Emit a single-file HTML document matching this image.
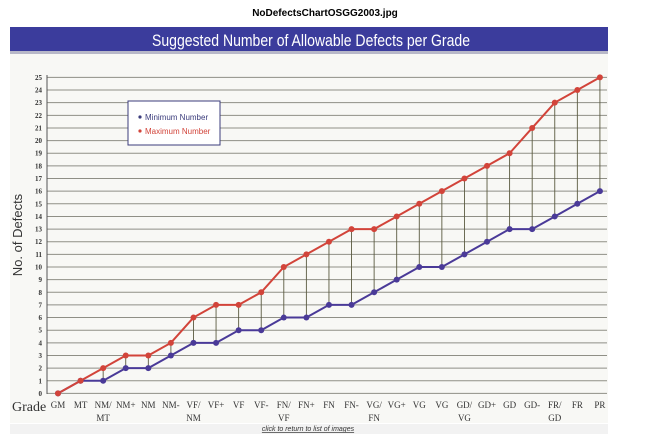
<!DOCTYPE html>
<html><head><style>
body{margin:0;background:#fff;width:650px;height:434px;overflow:hidden;font-family:"Liberation Sans",sans-serif}
</style></head><body>
<svg width="650" height="434" xmlns="http://www.w3.org/2000/svg">
<rect x="0" y="0" width="650" height="434" fill="#fff"/>
<text x="325" y="16" font-size="10" font-weight="bold" text-anchor="middle" font-family="Liberation Sans">NoDefectsChartOSGG2003.jpg</text>
<rect x="10" y="53" width="598" height="370" fill="#f8f8f5"/>
<rect x="10" y="27" width="598" height="25" fill="#3b3c9c"/>
<rect x="10" y="51" width="598" height="3" fill="#b8b8c8"/>
<text x="152" y="46" font-size="17" fill="#fff" textLength="318" lengthAdjust="spacingAndGlyphs" font-family="Liberation Sans">Suggested Number of Allowable Defects per Grade</text>
<g id="grid" stroke="#8f8f86" stroke-width="1"></g>
<line x1="47" y1="75" x2="47" y2="394" stroke="#555" stroke-width="1"/>
<g id="ylab" font-size="7" font-weight="bold" fill="#333" font-family="Liberation Serif" text-anchor="end"></g>
<g id="drops" stroke="#5a5a40" stroke-width="0.9"></g>
<polyline id="minl" fill="none" stroke="#4a3a98" stroke-width="2"/>
<polyline id="maxl" fill="none" stroke="#d2443a" stroke-width="2"/>
<g id="dots"></g>
<rect x="128" y="101" width="92" height="44" fill="#fff" stroke="#3b3c7c" stroke-width="1"/>
<circle cx="140" cy="117" r="1.6" fill="#3b3c7c"/>
<text x="145" y="120" font-size="8" fill="#3b3c7c" font-family="Liberation Sans">Minimum Number</text>
<circle cx="140" cy="131" r="1.6" fill="#d2443a"/>
<text x="145" y="134" font-size="8" fill="#d2443a" font-family="Liberation Sans">Maximum Number</text>
<text transform="translate(22,235) rotate(-90)" font-size="13" fill="#333" text-anchor="middle" font-family="Liberation Sans">No. of Defects</text>
<text x="12" y="411" font-size="14" fill="#333" font-family="Liberation Serif">Grade</text>
<g id="xlab" font-size="9" fill="#333" font-family="Liberation Serif" text-anchor="middle"></g>
<rect x="10" y="424" width="598" height="10" fill="#f2f2f2"/>
<text x="308" y="431" font-size="7" font-style="italic" fill="#333" text-anchor="middle" text-decoration="underline">click to return to list of images</text>
</svg>
<script>
var ns="http://www.w3.org/2000/svg";
function el(t,a,p){var e=document.createElementNS(ns,t);for(var k in a)e.setAttribute(k,a[k]);document.getElementById(p).appendChild(e);return e;}
function Y(v){return 393.4-v*12.64;}
function X(i){return 58+i*22.58;}
for(var v=0;v<=25;v++){el('line',{x1:47,y1:Y(v),x2:607,y2:Y(v)},'grid');var t=el('text',{x:42,y:Y(v)+2.5},'ylab');t.textContent=v;}
var mx=[0,1,2,3,3,4,6,7,7,8,10,11,12,13,13,14,15,16,17,18,19,21,23,24,25];
var mn=[0,1,1,2,2,3,4,4,5,5,6,6,7,7,8,9,10,10,11,12,13,13,14,15,16];
var g=[["GM"],["MT"],["NM/","MT"],["NM+"],["NM"],["NM-"],["VF/","NM"],["VF+"],["VF"],["VF-"],["FN/","VF"],["FN+"],["FN"],["FN-"],["VG/","FN"],["VG+"],["VG"],["VG"],["GD/","VG"],["GD+"],["GD"],["GD-"],["FR/","GD"],["FR"],["PR"]];
var a=[],b=[];
for(var i=0;i<25;i++){a.push(X(i)+","+Y(mn[i]));b.push(X(i)+","+Y(mx[i]));
if(mx[i]>mn[i])el('line',{x1:X(i),y1:Y(mx[i]),x2:X(i),y2:Y(mn[i])},'drops');
for(var j=0;j<g[i].length;j++){var t=el('text',{x:X(i),y:408+j*13},'xlab');t.textContent=g[i][j];}}
document.getElementById('minl').setAttribute('points',a.join(' '));
document.getElementById('maxl').setAttribute('points',b.join(' '));
for(var i=0;i<25;i++){el('circle',{cx:X(i),cy:Y(mn[i]),r:3,fill:'#4a3a98'},'dots');el('circle',{cx:X(i),cy:Y(mx[i]),r:3,fill:'#d2443a'},'dots');}
</script>
</body></html>
